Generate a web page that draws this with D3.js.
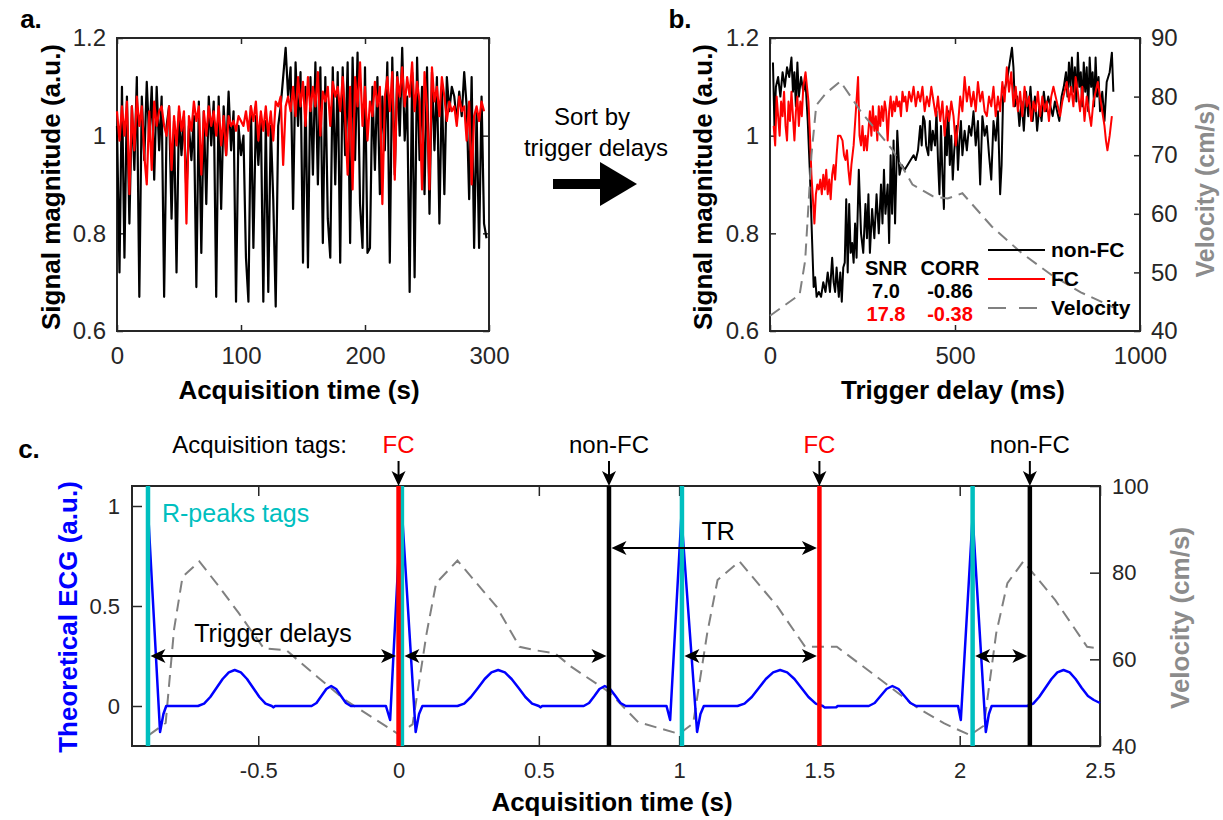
<!DOCTYPE html>
<html>
<head>
<meta charset="utf-8">
<script src="https://cdn.jsdelivr.net/npm/d3@7"></script>
<style>
  body { margin: 0; background: #fff; }
  svg text { font-family: "Liberation Sans", Arial, Helvetica, sans-serif; }
</style>
</head>
<body>
<div id="figure"></div>
<script>
// ---------- panel a: signal vs acquisition time (one sample every 2 s) ----------
const aTimeStep = 2;
const aNonFC = [1.02,0.72,1.10,0.75,1.08,0.82,1.06,0.93,1.12,0.67,1.08,0.95,1.11,0.99,1.10,0.91,1.10,0.97,1.08,0.67,
  1.02,1.06,0.83,1.03,0.72,1.05,0.96,1.04,0.88,1.02,0.95,1.04,0.69,1.07,0.76,1.05,0.86,1.08,0.98,1.07,
  0.67,1.08,0.85,1.06,0.96,1.09,0.97,1.05,0.66,1.02,0.96,1.00,0.75,0.66,1.06,0.77,1.04,0.94,1.04,0.66,
  1.03,0.68,1.02,0.87,0.65,1.02,1.06,1.12,1.18,1.08,1.14,0.85,1.15,1.02,1.13,0.74,1.10,0.73,1.12,0.92,
  1.15,0.90,1.14,0.78,1.12,0.83,0.75,1.14,0.90,1.13,0.74,1.14,0.96,1.15,0.78,1.16,0.95,1.17,0.86,0.77,
  1.14,0.76,0.77,1.10,0.93,1.12,0.88,1.08,0.97,1.15,0.74,1.16,0.92,1.13,1.00,1.18,0.99,1.08,0.68,1.13,
  0.71,1.16,0.95,1.10,0.88,1.14,0.84,1.13,0.97,1.12,0.82,1.10,0.88,1.12,1.05,1.10,1.08,1.03,1.09,1.04,
  1.13,1.06,0.87,1.12,0.77,1.05,0.77,1.08,0.82,0.79];
const aFC = [1.05,0.99,1.06,1.00,1.07,0.88,1.06,0.97,1.08,1.02,1.06,0.96,0.90,1.05,0.93,1.07,1.02,1.05,1.06,1.02,
  1.00,1.06,0.93,1.04,0.98,1.06,1.01,1.05,0.82,1.04,1.01,1.07,1.03,1.06,0.92,1.05,1.00,1.06,1.02,1.05,
  1.00,1.06,0.98,1.04,0.96,1.04,1.02,1.03,1.01,1.04,1.03,1.02,1.05,1.01,1.06,1.03,1.07,0.99,1.05,1.01,
  1.06,1.00,1.05,0.99,1.07,1.06,1.08,0.94,1.06,1.08,1.05,1.10,1.04,1.12,1.06,1.11,1.02,1.12,1.05,1.10,
  1.06,1.13,1.00,1.09,1.07,1.10,1.02,1.11,1.08,1.10,1.05,1.12,1.04,0.92,1.10,0.89,1.12,1.06,1.15,1.02,
  1.10,0.99,1.07,1.04,1.11,1.06,1.10,0.86,1.08,1.12,1.05,1.13,0.91,1.12,1.08,1.14,1.06,1.12,1.08,1.15,
  1.05,1.11,1.07,0.89,1.13,1.06,0.89,1.14,1.07,1.10,1.04,1.12,1.08,1.03,1.07,1.05,1.06,1.02,1.08,1.05,
  1.06,0.99,1.07,0.90,1.04,1.06,1.03,1.07,1.05];
const aXTicks = [0, 100, 200, 300];
const abYTicks = [0.6, 0.8, 1, 1.2];

// ---------- panel b: signal sorted by trigger delay [ms, a.u.] ----------
const bNonFC = [[8,1.15],[12,1.02],[16,1.10],[22,1.12],[28,1.08],[34,1.13],[40,1.10],[46,1.14],[52,1.12],[58,1.16],
  [62,1.09],[66,1.13],[70,1.06],[74,1.15],[78,1.08],[84,1.12],[90,1.09],[96,1.11],[102,1.03],[108,0.92],
  [114,0.78],[118,0.69],[122,0.71],[126,0.67],[132,0.68],[138,0.67],[144,0.70],[150,0.68],[156,0.72],[162,0.68],
  [168,0.75],[172,0.70],[176,0.68],[180,0.73],[186,0.67],[190,0.72],[194,0.66],[198,0.73],[202,0.74],[206,0.87],
  [210,0.72],[214,0.86],[218,0.76],[222,0.78],[226,0.74],[230,0.82],[234,0.75],[240,0.93],[246,0.80],[252,0.76],
  [258,0.86],[262,0.79],[266,0.88],[270,0.76],[276,0.85],[282,0.79],[288,0.88],[294,0.80],[300,0.90],[304,0.82],
  [308,0.93],[312,0.84],[318,0.90],[322,0.78],[326,0.96],[330,0.84],[334,0.99],[338,0.82],[344,1.01],[350,0.92],
  [356,0.94],[364,0.93],[372,0.94],[380,0.95],[388,0.96],[394,0.95],[400,0.97],[406,1.02],[410,0.98],[414,1.04],
  [418,1.03],[422,0.98],[428,0.96],[432,1.03],[436,0.97],[440,1.01],[446,0.98],[450,1.05],[454,0.95],[458,0.88],
  [462,1.02],[466,0.92],[470,0.85],[474,1.03],[478,0.96],[482,1.05],[486,0.94],[490,1.00],[494,0.91],[498,0.97],
  [504,1.02],[508,0.93],[512,0.99],[516,1.03],[520,0.96],[526,1.01],[532,0.97],[538,1.02],[544,1.00],[550,1.05],
  [556,0.98],[562,1.03],[568,0.90],[574,1.04],[580,1.00],[586,1.02],[592,0.96],[598,0.91],[604,1.03],[610,0.99],
  [616,1.05],[622,0.88],[626,0.94],[630,1.08],[636,1.10],[642,1.12],[648,1.15],[654,1.18],[658,1.14],[662,1.06],
  [668,1.08],[674,1.02],[680,1.07],[686,1.01],[692,1.09],[698,1.04],[704,1.10],[710,1.03],[716,1.08],[722,1.01],
  [728,1.06],[734,1.03],[740,1.09],[746,1.05],[752,1.08],[758,1.06],[764,1.04],[770,1.07],[776,1.05],[782,1.03],
  [788,1.08],[794,1.10],[800,1.13],[804,1.08],[808,1.15],[812,1.10],[816,1.16],[820,1.09],[824,1.14],[828,1.07],
  [832,1.17],[836,1.10],[840,1.13],[844,1.06],[848,1.15],[852,1.09],[856,1.14],[860,1.05],[864,1.16],[868,1.10],
  [872,1.13],[876,1.06],[880,1.16],[884,1.08],[888,1.12],[892,1.05],[898,1.09],[904,1.03],[910,1.11],[918,1.13],
  [924,1.17],[928,1.09]];
const bFC = [[10,1.02],[14,0.98],[18,1.08],[22,1.04],[26,1.00],[30,1.07],[34,1.04],[38,1.09],[42,1.02],[46,0.99],
  [50,1.07],[54,1.03],[58,1.09],[62,1.04],[66,0.99],[70,1.05],[74,1.08],[78,1.02],[82,1.07],[86,1.04],
  [90,1.10],[96,1.13],[100,1.10],[104,1.07],[108,1.00],[112,0.92],[116,0.87],[120,0.82],[124,0.88],[128,0.90],
  [132,0.89],[136,0.91],[140,0.88],[144,0.92],[148,0.89],[152,0.93],[156,0.88],[160,0.91],[164,0.87],[168,0.92],
  [172,0.94],[176,0.91],[180,0.96],[184,1.00],[190,1.00],[196,0.99],[200,0.96],[204,0.95],[208,0.97],[212,0.93],
  [216,0.90],[220,0.94],[226,0.98],[232,1.05],[238,1.12],[242,1.00],[246,0.98],[250,1.02],[254,0.97],[258,1.00],
  [262,0.97],[266,1.01],[270,1.05],[274,1.00],[278,1.06],[282,1.01],[286,1.04],[290,0.99],[294,1.06],[298,1.02],
  [302,1.06],[306,1.03],[310,1.07],[314,1.05],[318,0.99],[322,1.05],[326,1.08],[330,1.04],[334,1.07],[338,1.05],
  [342,1.08],[346,1.06],[350,1.07],[354,1.04],[358,1.09],[362,1.07],[366,1.08],[370,1.05],[376,1.09],[382,1.07],
  [388,1.10],[394,1.06],[400,1.09],[406,1.07],[412,1.10],[418,1.05],[424,1.08],[430,1.06],[436,1.10],[442,1.07],
  [448,1.04],[454,1.08],[460,1.03],[466,1.07],[472,1.00],[478,1.06],[484,1.03],[490,1.07],[496,1.04],[502,0.98],
  [508,1.02],[514,1.08],[520,1.05],[526,1.12],[532,1.07],[538,1.10],[544,1.06],[550,1.09],[556,1.05],[562,1.11],
  [568,1.07],[574,1.09],[580,1.05],[586,1.04],[592,1.08],[598,1.06],[604,1.10],[610,1.04],[616,1.08],[622,1.05],
  [628,1.11],[634,1.07],[640,1.14],[646,1.09],[652,1.13],[658,1.06],[664,1.10],[670,1.05],[676,1.09],[682,1.04],
  [688,1.10],[694,1.06],[700,1.08],[706,1.03],[712,1.07],[718,1.05],[724,1.09],[730,1.04],[736,1.08],[742,1.05],
  [748,1.07],[754,1.03],[760,1.08],[766,1.10],[772,1.08],[778,1.06],[784,1.04],[790,1.07],[796,1.09],[802,1.11],
  [808,1.07],[814,1.10],[820,1.06],[826,1.12],[832,1.09],[838,1.05],[844,1.10],[850,1.03],[856,1.08],[862,1.05],
  [868,1.02],[874,1.07],[880,1.09],[886,1.11],[892,1.08],[898,1.05],[904,1.02],[908,0.99],[912,0.97],[918,1.00],
  [924,1.04]];
const bVelocity = [[0,42.6],[80,46.2],[95,52],[112,70],[125,78.5],[150,80.5],[190,82.6],[245,77.5],[330,71],
  [385,65],[440,63],[480,62.6],[520,63.5],[600,57.8],[680,53.3],[760,49.6],[840,46.6],[930,44]];
const bXTicks = [0, 500, 1000];
const bVelTicks = [40, 50, 60, 70, 80, 90];
const bStatsHead = ['SNR', 'CORR'];
const bStatsNonFC = ['7.0', '-0.86'];
const bStatsFC = ['17.8', '-0.38'];
const bLegend = ['non-FC', 'FC', 'Velocity'];

// ---------- panel c: theoretical ECG and velocity [s, a.u. / cm/s] ----------
const cECG = [[-0.893,0.98],[-0.850,-0.13],[-0.838,-0.04],[-0.828,0],[-0.715,0],
  [-0.693,0.012],[-0.671,0.045],[-0.649,0.09],[-0.627,0.135],[-0.605,0.168],[-0.584,0.18],[-0.562,0.168],
  [-0.540,0.135],[-0.518,0.09],[-0.496,0.045],[-0.474,0.012],[-0.452,0],[-0.446,-0.007],[-0.440,0],
  [-0.31,0],[-0.2925,0.015],[-0.275,0.05],[-0.2575,0.085],[-0.24,0.10],[-0.2225,0.085],[-0.205,0.05],[-0.1875,0.015],[-0.17,0],
  [-0.045,0],[-0.030,-0.07],[0.010,1.02],[0.061,-0.13],[0.073,-0.04],[0.085,0],[0.21,0],
  [0.234,0.012],[0.258,0.045],[0.283,0.09],[0.307,0.135],[0.331,0.168],[0.355,0.18],[0.379,0.168],
  [0.403,0.135],[0.428,0.09],[0.452,0.045],[0.476,0.012],[0.50,0],[0.506,-0.007],[0.512,0],
  [0.66,0],[0.679,0.015],[0.698,0.05],[0.716,0.085],[0.735,0.10],[0.754,0.085],[0.773,0.05],[0.791,0.015],[0.81,0],
  [0.955,0],[0.968,-0.07],[1.008,0.95],[1.064,-0.13],[1.076,-0.04],[1.088,0],[1.208,0],
  [1.233,0.012],[1.259,0.045],[1.284,0.09],[1.309,0.135],[1.335,0.168],[1.360,0.18],[1.385,0.168],
  [1.411,0.135],[1.436,0.09],[1.461,0.045],[1.487,0.012],[1.512,0],[1.518,-0.007],[1.56,-0.006],[1.565,0],
  [1.676,0],[1.697,0.015],[1.718,0.05],[1.739,0.085],[1.760,0.10],[1.782,0.085],[1.803,0.05],[1.824,0.015],[1.845,0],
  [1.994,0],[2.004,-0.07],[2.046,0.95],[2.093,-0.13],[2.104,-0.04],[2.114,0],[2.24,0],
  [2.262,0.012],[2.283,0.045],[2.305,0.09],[2.327,0.135],[2.348,0.168],[2.370,0.18],[2.392,0.168],
  [2.413,0.135],[2.435,0.09],[2.457,0.05],[2.478,0.03],[2.50,0.015]];
const cVelocity = [[-0.89,42.5],[-0.83,45.3],[-0.80,67],[-0.77,79],[-0.71,82.6],[-0.64,76.8],[-0.57,70.7],
  [-0.48,62.5],[-0.40,62.1],[-0.29,56],[-0.19,50.6],[-0.077,45.9],[0.0,42.7],[0.05,45],[0.10,66],[0.134,77.6],
  [0.21,82.8],[0.35,72.1],[0.431,62.9],[0.487,62.1],[0.558,61.4],[0.615,58.3],[0.749,52.5],[0.854,45.5],
  [1.0,42.8],[1.05,45.2],[1.10,66],[1.137,78.3],[1.215,82.6],[1.35,72.2],[1.449,62.9],[1.562,62.9],[1.704,56],
  [1.845,49],[1.945,45.2],[2.037,42.5],[2.086,44.7],[2.13,66],[2.17,77.6],[2.227,82.6],[2.34,73.7],[2.454,62.9],[2.5,62.5]];
const cRPeaks = [-0.893, 0.012, 1.010, 2.046];
const cTagTimes = [0, 0.75, 1.5, 2.25];
const cTagLabels = ['FC', 'non-FC', 'FC', 'non-FC'];
const cXTicks = [-0.5, 0, 0.5, 1, 1.5, 2, 2.5];
const cYTicks = [0, 0.5, 1];
const cVelTicks = [40, 60, 80, 100];

// ---------- drawing ----------
const axisColor = '#262626';
const velGray = '#808080';
const cyan = '#00bfbf';
const red = '#ff0000';

const svg = d3.select('#figure').append('svg')
    .attr('width', 1223)
    .attr('height', 820);

function styleAxis(g, fs) {
    g.select('.domain').remove();
    g.selectAll('.tick line').attr('stroke', axisColor).attr('stroke-width', 1.5);
    g.selectAll('.tick text').attr('fill', axisColor).attr('font-size', fs);
}

const fmt = d => String(d);

// MATLAB style box with inward ticks
function drawAxes(x, y, yRight, o) {
    const [x0, x1] = x.range();
    const [y0, y1] = y.range();
    const g = svg.append('g');
    g.append('g').attr('transform', `translate(0,${y0})`)
        .call(d3.axisBottom(x).tickValues(o.xTicks).tickSize(-o.tick).tickPadding(o.xPad).tickFormat(fmt))
        .call(a => styleAxis(a, o.fs));
    g.append('g').attr('transform', `translate(0,${y1})`)
        .call(d3.axisTop(x).tickValues(o.xTicks).tickSize(-o.tick).tickFormat(''))
        .call(a => styleAxis(a, o.fs));
    g.append('g').attr('transform', `translate(${x0},0)`)
        .call(d3.axisLeft(y).tickValues(o.yTicks).tickSize(-o.tick).tickPadding(o.yPad).tickFormat(fmt))
        .call(a => styleAxis(a, o.fs));
    if (yRight) {
        g.append('g').attr('transform', `translate(${x1},0)`)
            .call(d3.axisRight(yRight).tickValues(o.rTicks).tickSize(-o.tick).tickPadding(o.yPad).tickFormat(fmt))
            .call(a => styleAxis(a, o.fs));
    } else {
        g.append('g').attr('transform', `translate(${x1},0)`)
            .call(d3.axisRight(y).tickValues(o.yTicks).tickSize(-o.tick).tickFormat(''))
            .call(a => styleAxis(a, o.fs));
    }
    g.append('rect')
        .attr('x', x0).attr('y', y1)
        .attr('width', x1 - x0).attr('height', y0 - y1)
        .attr('fill', 'none').attr('stroke', axisColor).attr('stroke-width', 2);
}

function label(txt, x, y, o = {}) {
    const t = svg.append('text')
        .attr('x', x).attr('y', y)
        .attr('font-size', o.fs || 24)
        .attr('font-weight', o.bold ? 'bold' : 'normal')
        .attr('fill', o.color || '#000')
        .attr('text-anchor', o.anchor || 'middle')
        .text(txt);
    if (o.rotate) {
        t.attr('x', 0).attr('y', 0).attr('dy', '0.35em')
            .attr('transform', `translate(${x},${y}) rotate(-90)`);
    }
    return t;
}

function arrowHead(g, tx, ty, dir) {
    const L = 15, w = 7, n = 4;
    let pts;
    if (dir === 'right') pts = [[tx, ty], [tx - L, ty - w], [tx - L + n, ty], [tx - L, ty + w]];
    else if (dir === 'left') pts = [[tx, ty], [tx + L, ty - w], [tx + L - n, ty], [tx + L, ty + w]];
    else pts = [[tx, ty], [tx - w, ty - L], [tx, ty - L + n], [tx + w, ty - L]];
    g.append('polygon').attr('points', pts.map(p => p.join(',')).join(' ')).attr('fill', '#000');
}

function doubleArrow(g, xa, xb, y) {
    g.append('line').attr('x1', xa + 6).attr('x2', xb - 6).attr('y1', y).attr('y2', y)
        .attr('stroke', '#000').attr('stroke-width', 2);
    arrowHead(g, xa, y, 'left');
    arrowHead(g, xb, y, 'right');
}

// ---- panel a ----
const xA = d3.scaleLinear().domain([0, 300]).range([117, 489]);
const yA = d3.scaleLinear().domain([0.6, 1.2]).range([331, 38]);
drawAxes(xA, yA, null, {xTicks: aXTicks, yTicks: abYTicks, tick: 6, xPad: 16, yPad: 11, fs: 24});

const lineA = d3.line().x((d, i) => xA(i * aTimeStep)).y(d => yA(d));
svg.append('path').datum(aNonFC).attr('d', lineA)
    .attr('fill', 'none').attr('stroke', '#000').attr('stroke-width', 2.2).attr('stroke-linejoin', 'round');
svg.append('path').datum(aFC).attr('d', lineA)
    .attr('fill', 'none').attr('stroke', red).attr('stroke-width', 2.2).attr('stroke-linejoin', 'round');

label('a.', 31, 28, {bold: true, fs: 26});
label('Signal magnitude (a.u.)', 51, 187, {bold: true, fs: 26, rotate: true});
label('Acquisition time (s)', 299, 399, {bold: true, fs: 26});

// ---- sort arrow ----
label('Sort by', 592, 125, {fs: 24});
label('trigger delays', 596, 156, {fs: 24});
svg.append('rect').attr('x', 553).attr('y', 179).attr('width', 49).attr('height', 10).attr('fill', '#000');
svg.append('polygon').attr('points', '600,162 637,184 600,206').attr('fill', '#000');

// ---- panel b ----
const xB = d3.scaleLinear().domain([0, 1000]).range([770, 1140]);
const yB = d3.scaleLinear().domain([0.6, 1.2]).range([331, 38]);
const vB = d3.scaleLinear().domain([40, 90]).range([331, 38]);
drawAxes(xB, yB, vB, {xTicks: bXTicks, yTicks: abYTicks, rTicks: bVelTicks, tick: 6, xPad: 16, yPad: 11, fs: 24});

const lineB = d3.line().x(d => xB(d[0])).y(d => yB(d[1]));
svg.append('path').datum(bNonFC).attr('d', lineB)
    .attr('fill', 'none').attr('stroke', '#000').attr('stroke-width', 2).attr('stroke-linejoin', 'round');
svg.append('path').datum(bFC).attr('d', lineB)
    .attr('fill', 'none').attr('stroke', red).attr('stroke-width', 2).attr('stroke-linejoin', 'round');
svg.append('path').datum(bVelocity)
    .attr('d', d3.line().x(d => xB(d[0])).y(d => vB(d[1])))
    .attr('fill', 'none').attr('stroke', velGray).attr('stroke-width', 2).attr('stroke-dasharray', '12,7');

// legend
const legColors = ['#000', red, velGray];
bLegend.forEach((name, i) => {
    const ly = 250 + i * 29;
    svg.append('line').attr('x1', 988).attr('x2', 1045).attr('y1', ly).attr('y2', ly)
        .attr('stroke', legColors[i]).attr('stroke-width', 2)
        .attr('stroke-dasharray', i === 2 ? '18,13' : null);
    label(name, 1051, ly + 7, {bold: true, fs: 21, anchor: 'start'});
});

// SNR / CORR table
const statCols = [886, 950];
bStatsHead.forEach((s, i) => label(s, statCols[i], 275, {bold: true, fs: 20}));
bStatsNonFC.forEach((s, i) => label(s, statCols[i], 298, {bold: true, fs: 20}));
bStatsFC.forEach((s, i) => label(s, statCols[i], 321, {bold: true, fs: 20, color: red}));

label('b.', 680, 28, {bold: true, fs: 26});
label('Signal magnitude (a.u.)', 703, 187, {bold: true, fs: 26, rotate: true});
label('Velocity (cm/s)', 1205, 190, {bold: true, fs: 25, rotate: true, color: '#8c8c8c'});
label('Trigger delay (ms)', 953, 399, {bold: true, fs: 26});

// ---- panel c ----
const xC = d3.scaleLinear().domain([-0.95, 2.5]).range([132, 1100]);
const yC = d3.scaleLinear().domain([-0.2, 1.1]).range([746, 486]);
const vC = d3.scaleLinear().domain([40, 100]).range([746, 486]);
drawAxes(xC, yC, vC, {xTicks: cXTicks, yTicks: cYTicks, rTicks: cVelTicks, tick: 10, xPad: 16, yPad: 12, fs: 22});

svg.append('path').datum(cVelocity)
    .attr('d', d3.line().x(d => xC(d[0])).y(d => vC(d[1])))
    .attr('fill', 'none').attr('stroke', velGray).attr('stroke-width', 2).attr('stroke-dasharray', '12,7');
svg.append('path').datum(cECG)
    .attr('d', d3.line().x(d => xC(d[0])).y(d => yC(d[1])))
    .attr('fill', 'none').attr('stroke', '#0000ff').attr('stroke-width', 2.5).attr('stroke-linejoin', 'round');

const [cTop, cBottom] = [yC.range()[1], yC.range()[0]];
svg.selectAll('.rpeak').data(cRPeaks).join('line')
    .attr('class', 'rpeak')
    .attr('x1', d => xC(d)).attr('x2', d => xC(d))
    .attr('y1', cTop).attr('y2', cBottom)
    .attr('stroke', cyan).attr('stroke-width', 4.5);
svg.selectAll('.tag').data(cTagTimes).join('line')
    .attr('class', 'tag')
    .attr('x1', d => xC(d)).attr('x2', d => xC(d))
    .attr('y1', cTop).attr('y2', cBottom)
    .attr('stroke', (d, i) => cTagLabels[i] === 'FC' ? red : '#000').attr('stroke-width', 4.5);

const ann = svg.append('g');
// trigger delays: each R-peak to the following acquisition tag
cRPeaks.forEach((r, i) => doubleArrow(ann, xC(r) + 2.5, xC(cTagTimes[i]) - 2.5, yC(0.25)));
// TR between two consecutive tags
doubleArrow(ann, xC(cTagTimes[1]) + 2.5, xC(cTagTimes[2]) - 2.5, yC(0.79));
label('TR', xC((cTagTimes[1] + cTagTimes[2]) / 2) + 4, yC(0.83), {fs: 25});
label('Trigger delays', 273, yC(0.32), {fs: 25});
label('R-peaks tags', xC(cRPeaks[0]) + 14, 522, {fs: 25, color: cyan, anchor: 'start'});

// acquisition tags on top
label('Acquisition tags:', 347, 453, {fs: 24, anchor: 'end'});
cTagTimes.forEach((t, i) => {
    const px = xC(t);
    label(cTagLabels[i], px, 453, {fs: 24, color: cTagLabels[i] === 'FC' ? red : '#000'});
    ann.append('line').attr('x1', px).attr('x2', px).attr('y1', 461).attr('y2', 476)
        .attr('stroke', '#000').attr('stroke-width', 2);
    arrowHead(ann, px, cTop, 'down');
});

label('c.', 29, 458, {bold: true, fs: 26});
label('Theoretical ECG (a.u.)', 68, 617, {bold: true, fs: 26, rotate: true, color: '#0000ff'});
label('Velocity (cm/s)', 1180, 618, {bold: true, fs: 26, rotate: true, color: '#8c8c8c'});
label('Acquisition time (s)', 612, 811, {bold: true, fs: 26});
</script>
</body>
</html>
